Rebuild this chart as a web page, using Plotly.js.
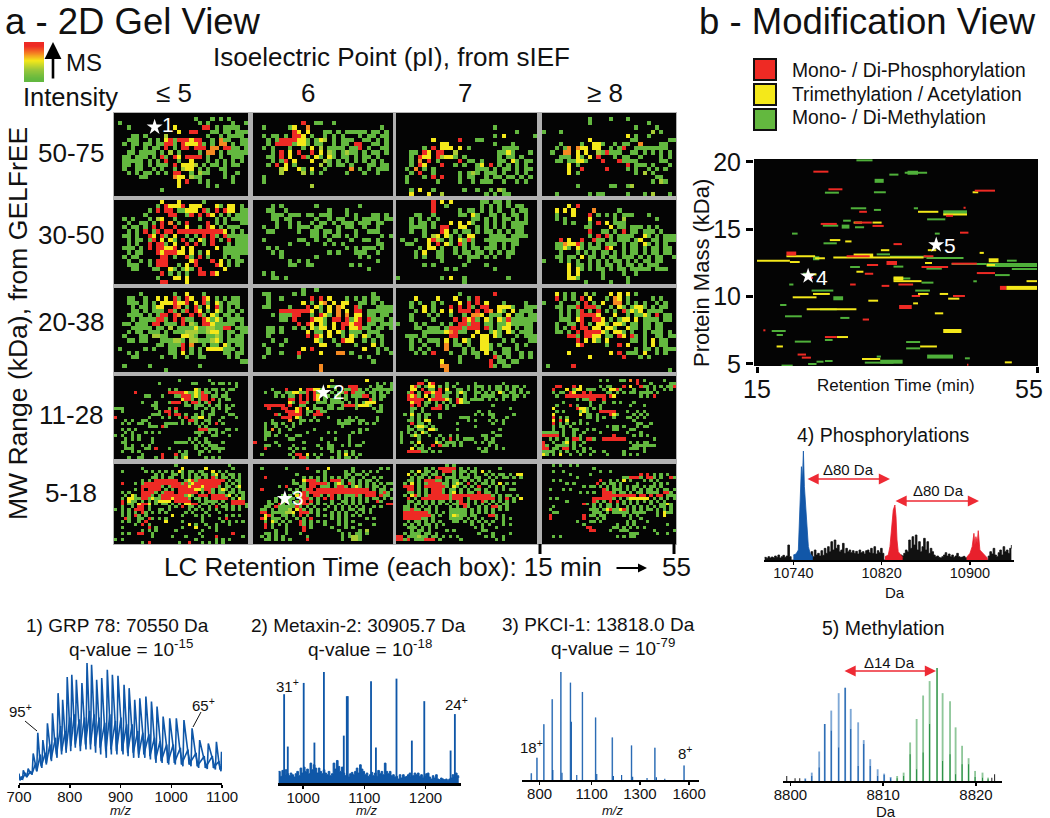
<!DOCTYPE html>
<html><head><meta charset="utf-8">
<script src="https://cdn.plot.ly/plotly-3.0.1.min.js"></script>
<style>html,body{margin:0;padding:0;background:#fff}</style></head>
<body><div id="chart" style="width:1050px;height:818px"></div>
<script>
// ---- gel cells: . none, g green, l lime, y yellow, o orange, r red
const gel_5075_pi5=["","...................g...g.g.g",".g..................g.g.....g..g","...g..........y......rr.g.gggg.","...............y..rr...gg.gg.ggg","....gg.g....l.........g..g.gggg","...ggg..g.g.yrgrrryrr..g.ogg..gg","..g.gg.gg.ggrrg.ryyyrg.g.oo.g.gg","....g..g.gg.r.g.rr.rrr.oo.rrgg.g","...gg.gggg.g.l.g....g.oo.g.ggggg","..gg.ggg.g.rg.ry.rrrr.g..g..ggg.","..ggggg.g.g.r..g..y...g.g.g.g.g","..gg.gg.g.ggg.r.yyyl.g.gg.g.gg.","..g..gg..g.g..g.lyy.g.g..gg..","...g.g.gg.g.g.rr..g.lgg...g..g","......gg......oyy.lgg.....g.g","...............y.r..g.g.....g","...............y......g.g","...........g",""];
const gel_5075_pi6=["","","...........r..gg..g...........","..g.....gy..o................g",".........ry.y...gg.g.ggggg.gg.g","..g.gg.g.rry.g..g.g.g...g.gg.gg","...g.grrrryyg.gyl.g.ggg..gg.g.g","...g.rrrrgyyg.gg..g.gg.rr..gg.g","..g.g...g..g.y.l.gggg.ggr.g..gg","....g.r.y.r..r.y.lg.glgg.g.gg.g","...gg.r.y..rg.yg.yg.gg.g.gg.g","....g.gr.y...y..lg.g.g.g.g.g.g.","...g.r.y.g.....l.g.gg.g...gg.gg","......ly..yg.y..g.....o.g.g.ggg","......l....l.g.g.....g...g..g","..g","..g",".............l","",""];
const gel_5075_pi7=["","","","......................g","...........................g","......................g.y......g","........y.....r...gg.........","..........yy..........g...g","......g.r.yyy.y.g.......gggg","...gg.ry.rr..l.........ggyg...g","...g.ryy.rlyyg.g.......g.gg.g","...g.o.r.g....r.gg.g...gg.yg.gg","...g.ry...r..g.g..gy.r.g.g.g.g","..g.o.g.g.........ggg.g.gg.g.gg","...g.r..g.....g.glg.ggg.g..g.g","..g...g.r.r...g.gg..g.gg.gg.g.g","..g......g....g..g.ggg..g..g.g","","...g.y..g......g..g..g.lg","...y...y..l.........g.g.gg"];
const gel_5075_pi8=["","...........g....g...g","...........g.............g","......................g....g","g...g.....................l.g","....................y.g..g","...........y.........gg.......gg","....g....g..yyg..g.gg..o....gg..","...g.go.oyy.yy..g.gr..gggggggg.","..g..oo.y.y..lgrggg..gg.g.g.g.g","....ggg.yg.y.r...g.gg..g....g.g","...gg.ggyyg...r...rgggg.....gg","......y.g...........r.ggg.g...g","......y..r.....r....g.g..g.g.g","......y.g.............g.l.g","...........................gg","..........................g.lg","........g.......gg..gl","","...g.......g.gg.....g...g.l...g"];
const gel_3050_pi5=["...........y...y.....g","..........g.ryyyr.yyy...yg.yy.g","........g.r.rr.ggyyy.rg.r.ryy.gg",".......g.....rr..gr.r.ry.g.g.ggg","..g.g...g.ly..g.....g...g.g.gggg","...g..gg.g.r.o.g.r....r.g.g...gg","..g.gg.g.r.r..r..y..g.ry.g.ggg..","...g.g.r.gr.rr.rrrrrrrrrrry.g.g.","..gg.g..ry.rg.y..g.g.r.rg.rggggg","...g.gg.gr.y.yg.r.g.yg.r.g.r.ggg","...g.g..r.rrg.y..r.r.g.r...g.ggg","..ggg.g.r.rryyr.y.y.....y.gggggg","...g.gg...ryrrryy.y.g.y...ggggggg","..g.gg.....rr.g..rg.r.g...g.gg","...g..g.g.rrr.....yr...r.y.g.gg","...ggg..g.rrr..g.y.r....ry.g.g","....gg...gg..yg.gyg.r.....y..","...........r.g.g.g..rr.ry.","..........g...yy.y..........","...........rr....y"];
const gel_3050_pi6=["","....g.g.......g.........g","...gg..g.........g...g..........","....ggg.ggg.gg.ggg...g.g...gg.g","....gg.gg.....g..g.gg..g.gggg.gg",".....g..g.g..g.gg.g.ggg.ggg.gg","..g..g..g.ggg.gg...g.gg..g..g","...gg.....g..gg.gg.g...g..ggg...",".............gg.g.gg.g.g.....g.g","..g.......gg..g..g....g..gg.g","........g...g...g.g.g.......gg","...g.g...............g.g.ggg.g","....g.g..........g.g...ggg..g","......g.......g.........g.g","........g.g.g...............g","........gg..gg........g.g","..........................g","..g.g..........","....gg.g.........","",""];
const gel_3050_pi7=["........r.y.y......gg.gg.g","........r..g.......g.g.g.g.gg","........r.....g.gg.g.g.g..g.gg","....gg..g.....gg.yg..gg.g.gg.g","...g.g.g.g.......gg.g.g.gg.g.g","...g.gg.g...y.y.yg..g.g.g.gggg","...gggg.g.rr..yy..g.g.g.g.ggg","...g..g...ry.g.gg.g.gg.g.g.gg","......g.ly.yg.g.yy...gggg.gggg",".g..g..yrlg.g.ygrg..gggggggg","..gg...y.r.yg.rg.g...gg.g.gg",".....g.yy.g..g.g.gg.ggg.g.g","....g.y..gg..g.gg.gg.g.g.gg","....g.g..gg...g.ggg.g.g..g.","..........g.....g....","......g.g......g....g","...........g.g........g","..................","g.........g.y..g.........g","...............g.."];
const gel_3050_pi8=["","......y.r","...y.y.y....o.....g...","...g...y...r.g.g.g.ggg...g","...g.g.....y.....g.l.......g",".....g.g...g.r.y.ggg..........","..........gg....y.gg.ggg.g.g","...........r..gg.g.r.gg.ggg.g","...........g.r.rg.gggg..yg.g.ggg","....r.y..r..rgg.g.ggg.gy..gg.ggg","...ggoyyrg.g.g.ggg.g.gg.yg.g.g","...ggyg.yg.ggg.ry..g.gg.g.gg.gg","....g...g.g.g.gg.g.g.gg.g.gg.gg","...gg.gg.y.gg.g.gg.ggg.g.g.gg..g","g...g.g.g..g.g.g.gg.g.g.gg.gg","......y.gg.g.g.gg.g.gg.g.ggg...","......y.yg.g.gg.g.gg.ggggg.ggg","......y.y.....g....g..g...","......yyg.....g.....g","..........g.....g...g"];
const gel_2038_pi5=["","......g.......g..y...g...","...gg..g..y.y.rg.ry..ry.g.g.gg","...ggg.g.g.yyyryyr.y.rg.yg.ggg","....g.gg.gyy..ro.g.rg.y.rg.g.g","....gg.g.ggg.rg.gr.ry.g.yg.gg.g","...gggg.g.grr.ro..r.rg.yg.gg.g","....g.ggggrrg.r.rgg..rygyg.gggg","..gg.ggg.rr.ggg.r.lg.rryggggg.g","....ggggg.gg.l.ggggyggllggrr.ggg","...g.gg.ggg.g.ggglllgglyyg.gg.gg","..g...gg.llgg...yylg..gglg.g.gg","...gg.gg...gggllg.llggglyg.gggg","..........gg.gggr.o..g.gg.yg.gg.",".g.....g.g...gg.r.g.g.yyyyggg.g","...g.g.......gg.y.g.g.....gg.gg","....gg.....g..g..g..gg.....g.g","..............................gg","..g.....g...........g....","............g..."];
const gel_2038_pi6=["...........g..g.......","..gg.....g.g...............g","...g..g......r.r.y...g.g.g.gg","...g.......y.g.yo.y.yy..gg.g.g","..gg....g...r.yg.y.oy..rg...ggggg","......rrrrrrry.g.y.o.y.rr.ggggggg","....g.gggrr..g.ryg.o.o.yy.gg.gg","......gg.r...ryyg.rr.rgyr.rggg.g","..........r.ry.yg.y.rryrr.gg.ggg","...gg.g..g.g.ygyy.y.r.yyrgg.gg.g","...gg.g.....y.gg.y.yg.ggg.ggg.","...g........r.ry.y..g.yg.yg.gg","....g..g......yg..g.ryy..g.g.g","..g...g........yy..g...g...y.g","...g.......y.r...........y..g.g.","...g..g...r....y...oo.g.....g..g","..g.......g.............g.g","...........................g","...............o","...............o"];
const gel_2038_pi7=["","..............g.......r","....y....y...y..g.r.......","...g.g..g.g...y.r.r.y...g....g","...g..y.g...r.r.rg.rr..yyyg..ggg","....g.y.g.y.y.rrr.r.ro.yg.y.ggg.","...g...g.g..g..g.ooy.ggg.y.gg.gg","...g....g....r.ryrg.yg.ygrgggggg","g...g.g...g.g.rrgrr.gg.ggyggggg.","....gg.ggg.grrrgrrr.rg.gyy.g.gg","......gggggyorgg..y..gyg.yg.ggg","..ggg.g.....rr...y.yy.yg...g.ggg","...g.g.ggg.y.g.yg..yy...g.g...gg","...g..g..g.o.gg.g..yyg.g...g.g.","...g.g.g...o...g.g.yyg..gg.g.","....g.g.r...g..g.gg.y.g.gg..g.g","..............g...g...rg.g..g.g","..........y...g......r.gg.gg","..........oo.........rg.gg","...........o.................."];
const gel_2038_pi8=["","...y.g.g..l.g...y.y.y.g","...r.g.g.r.y...g.oy.g.....g.g","g...g...g.r.g.y..oo.g.g.g..g.g","...gg.ggr.rrrg..g.yg.gyyg.g.gg","....g.g.gr.g.r.g.g.rgygy.gggg..","....g.g.grrrry...y..g.ggyg.r.gg.","....ggg.yr..rry.g.gyy.y.gggg.gg","...g..gg.r.g.yyg.yyg.gg.gg.gg","...g.g.r.rr.yy.yyg..ygg.gg.gg","...gg.g.r.rrrryg.yyg.g..g.ggg.g","......rrg.rryy.gg.ry.rg.g..gg.gg","........r.y.yg.y.....gg.g.y.gg","........yr.....g..r.y...g.y.gg","......................g.gg.g.ggg","......y.........y.r.ggg.y..g.g","...........y.......r...g.g","...........................",".g.....r......","..............................g"];
const gel_1128_pi5=["","...................g........g",".............g.........gg....g.gg.g.g....gg","....................................g...gg","................g.g.....yg.g.gg.g.gg.","......r.........rrrrryggygrgg.g..g",".........gg...g...ggrrrgygrr.gg.gg","....................yrrg.grr.r.g.gg","........g...g...grrr.g.rrg.gr..g.","...........gg........gg.ggg.g.gg.g.g","ggg.........g...g.r.....g..g.g.g.gg","..g..........g.rr.g.......g..g...g","...........ggg..r.rr.g..g.g.gg....gg","r.........g...g.g..g.r.ggyy.g...g...g","...g.g..gg..........g.rrg..gg..g..","..g.g..gg.g....gggg.g.g.g.g.g.r.g","..........ggg.rg.........g.g....","..g.g.g..................rrrggg..gg.g","...g.g...g.g.g..........ggg.g.g.g","g.g..g.g.................g...gg...g","...g.g.g...g..........g.g..g...","..gg.......g......gggg.g.g.gg...g..","...g.g..g.g.............g.g.ggg","...ggg...gg.r...g.......g..g.gggg.","..g..g.g...........g.g...gg.g..g.","........g.....r...r.gg...g.....","....g..gg...g.r...g.gy.....g.g.g",""];
const gel_1128_pi6=["","......................l.........y...","...................................g.g.g",".....................ygg...rrr...g.gg..ggyy",".....g...r...y.rryyg...g..ggrrg.g.gggggggg","...g..gg.ggyyggr.rggg.g.ggr.rggg.gg.g.g.g","......g.g.gg.r.r.ry.gg.gg.g.gggrr.g.gg","..........rr.r.r.ry.g.ggg.g..g...rg.g.","..........yg.rrg..ggg.gggg.g.g.gyyy....","...rrrrrr.r..gg..g...gg..grrrgyyyg..g.","....r...rr..yr.y.ggg.gg.gg...g....g.g.",".........rrryr.gg.rgg..............gg","......rg..rrrr.g.rrr.........","........rrr.yg...g...g.....g.g.....g",".....g....o..gg.g.g.....g.ggg.gg...g","...g.gg.g..g.g..........gggg..g.g.g.","...g..g..g.g.............g...","...g.o.g..g......g............g.g","...gg..g.......g.....g.g....g.g","...gg.g..g..gg.............g......","...g......gg.......g...g...g","r.....g.......g......g.....g...g","...gg..g...g......g..gg..g.g.gg..","...r......g.g.g....g.gg...","...........g..........g.g.g.g","..g.......g.rr.y.g.g....g.y.g.g.","...........g.rrg..g...g.g.gg.g...",""];
const gel_1128_pi7=["","........g...........","......rr.yr...g..g....g.......g..","....yrg.gyy.g.g.g...g.ggg.g.gg.g.gg.g","....yy.r.gg.r.y..gg.g.g.g.g.gg.g.g.g.","...gr.g.rryrr.gg.gyg..gg.g.g.yg.gg.g.g","...ryrg.y.grrgg..g.g..g.gggg..gg.gg.g","...rrrrr.yrrrryg.ryg.gggg.g.g.g..g","....yrr.gg.g.g.g.rygg..............","....r.r.g..gr.g.g..........g.....","....gg.g..rrr.g.................g","....g..g...............g..g.","..g.y.g.gg..g.........g.g.gg.....g.","....g.g.g...g.....ggg......g...g","...gg.g.yy..........g.g...g.g.g.","....r.gg.g.......g.........g..g.","...g.gyyg.g...........g......","...gg.gg.yyg.....g...........g.",".g.g.g.yg..................g...",".g..gyg..g..g..g.g......gg..gg.",".g....g....g.g.r.g.ggg...g.g...",".g..g.y....yg.ggg.g...g.g.gg...",".....g.g..r.rgg.g.g.......g.g..","....y.gg.g.............g.g..g.g","...rrrrgg.g.g...........gg.....","",""];
const gel_1128_pi8=["",".................g.g...gg.o.r.g.....g","............................r...g.....gg","....rr...r.y.....g.gg...r.y..rgg.g.g.ggrrg.","...r...y.gyy.ggg..g.yyrg...g...g.g..g.g","...g.gg.ry..r.r....gg.g.g.gg.gggg.g...","....g..rrrrrrrrrrrr.ry.......g.g.r.","..........g.ggrr..r.................","......g.......g...g..g.g...g.....","....g...r.g...g..g........g...g...","...y......ryyg.g.g...........","....g.g....gyg...rrrrr...g..g.g..","...y.......y.gg.g...ryg....g.g.g..","...r.g.g.....gg.g.g..g...gg.g.g..","...y.r.y...g....g..........g.......","...r.g.g.g.g.g..............gg..g","...g.gg.g..........g.gg.g...g.gg.","...g..g..gg..g.g.....gg...gg.","ggggg.g..g..g....g.......g...g....","rrrrr.g..g.g.........r.....g.g.g.","..g.g..g.rrg.rrg..rrrrrrr........g...","r..g..gy.g..g.............g.g.gg...","rg..gggg.g.g...............ggggggg...","rr.gg.rr.g..g.g...........ggg.g...","gggg.g.g..g.g..g..g.....g.....g","yg.g.y..g..g..g....g....g.g.g....",""];
const gel_518_pi5=["..................g...............g......g","........g...........y......y.......g.....","..g......g.g.g.g.g.yg.gg.gg..y.g.g.......","............g.g..gg.g.g.g.gg.gy.g.gg.g..g.","...........gg.g.gg..g.g.gg.g.rg.gg.g.g...","........g.g.rrrrrrr..gyrgrrrrrrrr.g.gg...","..r...g.grrrrrrrrrrrgrgyrrrrrrrr.g.g.g...","........rrrrrrg.grrrrryrrryrrrrg.gg.gy...","......g.r.rrrr.g.g.rrrrryygrrg.gyg.g.g...","..g.g...rrrrg.grrr.rrrrrr.g.rg.gg.gg.gg..","...g.yg.rrrg.grrrrrrrgyg.rrr.rrrrgy.g.g..","..g.yyggrrgyggrrryrrrrg.gg.g.rrrrr.g.yg..","..r.ygg.g.g.gyyyy.rrrrr..g.gggg.g..rrrr..","..r.gg.yrry.g.gg.g.g.yyrr.gg.g.g.g.rrrrg.","..g..g.rr.g.....g.g.r.gg.g..g.r.gg.g.g.g.","g.g.g.rrr.g..gg.g.....g.g.g.g.g..g.g.g...","..g.g.g.rg.g.g.g.....g.g...g...g.........","..g.g.rg.g.......y..g...g.g.g....g.g.g...","...rg..gg.rg.g.g..........g....g.r.......","..g.g..g.r.....y....g.....g.....g.g.g.g..","......g.r.g...........y.g..g..g...g......","..g.......r.g.......g...y...g.g..........","........g.g.g.....g.......g...g..........","..g.g..rr..g.............g.........r.....","...........g.....g...g....g...r.......g..","g.g.....................g.....g.g.g......","........g.r........g..r...g.g.g.g........"];
const gel_518_pi6=["..............................","..g......g.....r.....y......g.......g.g...","..................g.g.....g.g..g.g.g......","............g.......g.....gg.gg.g.......g.","...r..........g.g.g.g.g.g.g.g..g..g.g.....","...........g..yrrrg.g.rrrg.gg.g.gg.g......","...........gg.g.rrrrrg.gyg.rg.g.g.g.g.gg..",".......g.r...gg.rr.ggg.grrg.gyg.g.gg.g....","..r.......g.g.grr.rrrrrrrrrrrrrrr.g.gg.g..","...........gg.rgrrrrrrrrrrrrrrrrrrr.grg.g.","........g.g.yrrg.rrg.gr.g.gggrg.rrr.rgg.g.","......g.g.gg.grrg.g.r.r.g.g.g.g.g.gg.g.g..","....g.g.gyg.grr.r.g...g..gg.g.g.g..rg.....","....gg.rg.gg.grrg.g.g.g.g.g.g.g.......rr..","...gg.rgggggrg.g.g...g.g.g.g.g.g..g.g.....","..gg.g.gggl.yrg.g.g.g..g.g.gg.gg.g........","..rr.gggglly.rrrg.g...g.g.g..g.g.g........","...yrg..gg.g.r.g..g.g.g.g.g.g.g...........","..ry.ggg.g..g.g.r.....g.g.g.....g.g.......","...g.yg.g.g..rg.g.g.g...g.g.g.............","...r.g.g.g...rg.g...g...g.g...g...g.......","...r.g...g....r.g.....g...g.g.............","......g..g....r.........g.....g.l.........","...gg.g..g...g...........g.g.gg.g.........","..g.g.g.g......g.........g.gllg...........","...gg.g.g.g....r.........g..llg.........g."];
const gel_518_pi7=["..............g.g","........g.g.rrrrr.g.g.g......g......","....g.y.gg.g.rrrg.gg.gg.y.g......","...y.g.gg.gg.g..g.g.g.g..g.g.gg.g.yy.","....g.gg.g.rr.ggg.ggg.gg..g.g.gg.g.g","...gg.g.rrrgg.g.gg.g.g.g.g.g.........","..g.y.g.grrrrgg.gyg.r.g.gg.g.y.g.g.","..rrr.g.rrrrrrg.yg.g.g.r..g.g.g.....","...rr.g.g.rrrg.gg.g.g.gg.g..g.g.gg.","...gg.g.g.rrrg.gy.g.gg.r.gg.g.......","..g.yrg.grrrrrrgrrrrrrrrrrrg.g.gg.g..","...r.g.rrrrrrrrgrrr.grrrrrrr.g.r.g.y.","...gg.g.g.g.gg.g.gr.g.g.rg.g.g.g.g..","...g.gg.g.g.g.g.ggrrg.g.g.g.g.gg....","..gg.g.g.g.g...g.g.rg..g.g.rrg.g.....","..ggrgg.gg.g...ggggg.g.g.g.g.g.g....","..rrrrrrrg.g.g.ggggg.g.g.g.g.......","..rrrrrrrrg.g..gylgg.gg...rrg.g.....","..rrrrrgg.g....gggg.g.g.g...g.g.g..","...g.gg.g.g.g...gg.g.g.g.g.g..g.....","..g.g.g.gg.g.g.......g..g.g...g.g...","...ggg.g.g.g..........g.g...g.......","....g.gg.g....g.g.......gg.........","..g.ggg.gg.g...........g...g....g...","rr.ggglgg.gg.g.g.g.......g.g..g.....","rrgr.gggrrr.g.....g.........g.g....."];
const gel_518_pi8=["...g.g..g.g","...............g........","...g..g..........g..g...................","........g.....g..............r.r.g.g.g...","..........g.............ggrrrg.rrg.g..rg.g","...g.g...........r..g.g.y.g...g.g.g.......",".......g.g......r.g.gg.g....g....g.g.g...","............g.gg.g.g.g.g.g.gg.g.gg.g.....","..g...g.g.........rg.ggg.g.g.g.gg.g.gg.g..","...........g.g.g..rrrg.gg.g.gg.gggg.rrg.g.","..................rrrrrrrrrr.rr.r.rr.ggg.g","..g.g..........rrrrrrg.g.gyyyyyy.g.g.g.gg",".......g.......rg.g.r.r.g.g.g.g.g.g.g...","............rg.g.g.gg.g.g.g.g...g..ggyg...","...g...........g.g.gg.g..g.g.g.g.g.gg.g..","..g...........ggg.gyrggyrg.g.g.gg.g.g.g..","...gg..........ggg.g.ggggg.gggg...g.ygg..","..r.........r.gg.gg.....g.g.g.....g.y.....","..r.........r...g.g.......g..g..........","..........g...gg.g.......g.g...g..........","............g.........g..g.g.........g....",".............rr......gg.g.g.g.g...........","..............rr....g..ggg.......g.....g..","..........................ggg.....g..g....","...g.g................g.g.gg.............."];

// ---- colour key levels
const keyLevels=[[5],[4],[3],[2],[1],[0]];
const row_labels=["50-75","30-50","20-38","11-28","5-18"];
const col_labels=["≤ 5","6","7","≥ 8"];

// ---- modification map segments: [start min, end min, kDa]
const phospho=[[23.05,25.2,19.28],[25.2,27.2,17.97],[46.1,49,17.87],[29.6,30.7,16.3],[24.1,26.4,15.4],[28.9,31.4,15.5],[31.5,33.1,15.25],[44,45.2,14.75],[34.5,35.7,13.9],[27.8,31.1,13],[38.8,40.2,13],[30.7,32.3,12.35],[38.5,42.3,12.2],[42.8,46.4,12.45],[30.4,31.6,11.7],[46.4,49,11.75],[28.3,29.1,10.9],[35.2,37.3,10.9],[32.8,33.9,10.8],[37.1,38.3,10.05],[43,44.7,10.05],[30.1,31,8.3],[15.9,16.2,7.5],[24.7,26.4,7],[20.8,22,5.7],[21.4,22.7,5.47],[42,43,16],[22.3,23,11.4],[44.5,44.8,16.6],[45,45.2,4.95]];
const phosphoThick=[[19.2,20.6,13.2],[33.5,35,12.5],[49.7,50.6,10.65],[35.3,37.1,9.23]];
const trimethyl=[[15,19.7,12.67],[19.7,21.1,12.57],[19.2,23.3,13],[23.3,24.7,12.85],[25.9,38.8,12.9],[31.5,32.8,15.5],[28.8,30,15.5],[25.4,26.9,14.2],[27.6,28.5,14.1],[32.7,33.9,13.45],[38,40.9,16.3],[41.6,45,16.1],[45.8,46.6,17.75],[46.8,47.4,13.25],[29.2,30.2,11.85],[34.5,38.5,11.15],[53.5,55,11.15],[47.8,49,12.35],[39,40,12.5],[23,25.4,10.2],[38,39.5,10.2],[41.1,42.3,10.2],[42.3,43.9,9.85],[30.9,32.3,9.7],[20.1,23.5,9.95],[37.3,38,9.5],[22.1,29.2,9.06],[40.4,41.6,8.76],[38.3,40.7,6.3],[17.8,18.7,6.3],[26.4,28,7],[30,32.6,5.37],[50.4,51.4,5.12],[22,23.5,11.65],[39.4,40.6,13.45]];
const trimethylThick=[[50.6,55,10.65],[48.1,49.5,12.7],[34.5,35.9,11.35],[41.6,44.2,7.45],[28.8,31.6,13.05]];
const methyl=[[29.2,31.5,20.12],[36.1,39.3,19.2],[33.9,35.2,19.06],[31.7,33.4,17.75],[24.7,26.7,17.72],[28.4,30.6,16.56],[31.7,32.7,16.44],[37.4,38,16.56],[39.3,41.9,15.74],[27.3,28.4,15.64],[29,30.3,15.15],[24.4,26.6,15.27],[20,20.8,14.68],[40.4,41.1,14.68],[24.5,26.4,13.96],[32.1,34,13.14],[34,39.2,12.97],[39.2,44.5,12.87],[28.3,29.7,12.2],[34.5,35.9,12.23],[39.2,41.4,12.08],[42.8,47.8,12.43],[50.7,52.1,12.67],[51.4,55,12.05],[49,51.1,11.6],[21.6,22.6,11.7],[19.6,20.2,10.9],[34.5,36.9,11.35],[38.5,40.2,11.04],[45.9,46.4,11.14],[22.8,25.9,10.45],[37.6,39.7,10.45],[24,26.4,9.06],[18.3,19.2,9.38],[19,21.4,8.54],[26.9,28.2,8.42],[17.1,19.1,7.45],[17.8,18.7,7.15],[20.4,22.7,6.66],[24.7,25.8,6.78],[36.3,38.3,6.63],[36.3,38.3,6.16],[44.7,45.4,5.42],[22.3,23.5,5],[23.5,24.5,5.17],[24.7,25.8,5.22],[18.5,20.1,4.88],[30.4,34.5,5.1],[32.1,32.7,5.55]];
const methylThick=[[41.6,45,16.26],[31.8,33.1,18.6],[36.5,38,19.2],[27.1,28.2,15.2],[23,23.9,12.85],[47.8,55,12.35],[25.9,27.3,9.88],[39.3,43,5.55],[32.6,35.8,5.17]];
const star4=[22.3,11.53], star5=[40.6,13.84];

// ---- spectrum 1
const mz1=[700,702,704,707,708.5,712,716,718,722,726,728,732,735,737,741,745,747,751,754,756,760,764,766,770,775,777,781,784,786,790,793,795,799,802,804,808,811,813,817,821,824,828,832,834,838,841,843,847,851,853,857,861,863,868,872,874,879,882,884,889,893,895,901,905,907,912,915,917,922,926,928,933,936,938,944,948,950,955,959,961,966,970,972,978,982,984,990,995,997,1003,1008,1010,1017,1023,1025,1033,1039,1041,1048,1054,1056,1064,1071,1073,1081,1087,1089,1094,1098,1099,1100];
const int1=[28,8,15,12,38,25,18,43,30,28,88,50,35,150,70,45,128,85,55,178,110,65,208,130,75,268,165,85,248,150,90,316,190,95,323,200,105,308,180,95,298,190,100,358,210,100,353,200,90,308,190,85,313,170,75,338,200,85,323,180,85,320,190,85,293,170,80,283,170,75,248,150,75,253,145,75,258,140,70,243,130,60,228,120,60,198,110,55,193,110,55,193,100,50,188,90,50,163,85,45,128,75,42,118,75,40,123,60,35,93,40];
const mz1b=[704,706,713,715,723,725,733,735,742,744,752,754,761,763,772,774,782,784,791,793,800,802,809,811,819,821,829,831,839,841,848,850,858,860,869,871,879,881,890,892,901,903,912,914,923,925,934,936,944,946,956,958,967,969,978,980,991,993,1004,1006,1018,1020,1033,1035,1049,1051,1065,1067,1081,1083,1094,1096];
const int1b=[20,10,30,18,35,25,60,35,85,50,90,60,115,70,135,85,170,95,155,100,195,110,205,115,190,110,195,115,215,115,205,110,195,105,180,95,205,100,185,95,195,95,175,90,175,90,155,85,150,85,145,80,135,70,125,65,115,60,115,60,105,55,100,55,90,50,80,45,80,45,65,40];
// ---- spectrum 2
const mz2=[969,975,1001,1018.5,1034,1066.5,1071.4,1073,1111,1119,1152.6,1177.7,1198,1241,1248];
const int2=[268,110,302,122,335,143,262,262,307,107,315,128,247,98,208];
const grass2=[35,20,38,25,40,28,22,30,25,18,28,35,22,45,30,48,35,42,28,60,40,55,45,30,45,35,28,40,30,25,35,22,28,60,42,68,50,35,48,30,22,25,18,28,32,25,35,45,30,55,42,35,25,30,20,25,32,22,30,20,38,28,35,25,60,35,28,35,22,25,18,20,12,25,15,25,18,20,25,30,18,22,30,25,30,20,25,15,22,28,30,18,12,22,15,25,12,10,15,12,10,12,8,12,15,25,18,30,22,15];
// ---- spectrum 3
const mz3=[755.6,786,823,867.6,914,965,1029,1100,1189,1292,1417,1573];
const int3=[20,67,168,243,325,293,265,188,128,104,97,44];
const mz3minor=[871,920,970,999,1106,1195,1239,1298,1375,1425,1470];
const int3minor=[30,22,175,15,18,12,15,10,6,8,4];
const tick3=[800,1079,1337,1600], tick3text=["800","1100","1300","1600"];
// ---- spectrum 4
const noise4=[8,5,10,6,9,7,12,8,15,6,10,14,8,12,45,10,0,0,0,0,0,0,0,0,0,0,0,0,25,10,30,15,20,12,28,14,35,20,40,25,55,30,60,35,45,25,30,50,20,35,25,30,22,28,20,26,18,30,22,25,18,28,30,22,35,20,40,18,28,22,35,20,0,0,0,0,0,0,0,0,0,0,15,12,20,30,25,60,35,70,45,75,30,55,25,40,65,30,55,20,35,25,15,10,12,8,6,10,15,22,12,18,10,15,8,12,20,10,8,9,11,7,0,0,0,0,0,0,0,0,0,0,0,0,0,12,25,18,35,15,10,22,30,15,40,25,30,20,35,45];
const mzBlue4=[10740,10742.4,10744.5,10745.4,10746.3,10747.3,10748.2,10749.1,10750,10750.9,10751.8,10752.7,10753.6,10755.2,10757.6];
const intBlue4=[15,18,30,100,165,280,240,327,220,170,110,70,40,20,8];
const mzRed4a=[10823,10826,10827.5,10829,10830.5,10832,10833,10833.9,10835,10839];
const intRed4a=[10,15,40,110,150,165,130,60,25,8];
const mzRed4b=[10897,10900,10902,10903.6,10904.5,10905.4,10906.6,10907.5,10909,10912,10916];
const intRed4b=[8,20,40,80,45,70,50,88,30,20,5];
// ---- spectrum 5
const mz5blue=[8801.6,8802.3,8803.1,8803.7,8804.4,8805.2,8805.9,8806.5,8807.3,8807.9,8808.6,8809.4,8810.1,8810.8];
const int5blue=[8,25,88,170,210,262,278,215,175,122,65,35,22,12];
const int5blueDark=[5,15,40,170,150,100,278,155,45,110,45,15,18,8];
const mz5green=[8811.5,8812.2,8812.9,8813.6,8814.3,8815,8815.8,8816.4,8817.2,8817.8,8818.5,8819.2,8819.9,8820.7,8821.3];
const int5green=[15,25,115,185,255,298,337,262,238,160,105,68,30,25,10];
const int5greenDark=[8,15,80,35,85,170,337,60,80,20,50,50,12,10,5];
const mz5black=[8799.6,8800.5,8801,8821.7,8822];
const int5black=[15,8,8,10,20];

const W=1050,H=818,FONT='"Liberation Sans",Arial,sans-serif';
const X=x=>x/W, Y=y=>1-y/H;
const traces=[],annotations=[],shapes=[],layout={};
let axisId=0;
function axes(x0,x1,y0,y1,xopt,yopt){
  axisId++;const s=axisId===1?'':String(axisId);
  layout['xaxis'+s]=Object.assign({domain:[X(x0),X(x1)],anchor:'y'+s,visible:false,fixedrange:true,showgrid:false,zeroline:false},xopt);
  layout['yaxis'+s]=Object.assign({domain:[Y(y1),Y(y0)],anchor:'x'+s,visible:false,fixedrange:true,showgrid:false,zeroline:false},yopt);
  return {x:'x'+s,y:'y'+s};
}
function text(t,x,y,size,opt){annotations.push(Object.assign({text:t,x:X(x),y:Y(y),xref:'paper',yref:'paper',showarrow:false,xanchor:'center',yanchor:'middle',font:{family:FONT,size:size,color:'#111'}},opt||{}));}
function line(x0,y0,x1,y1,color,w){shapes.push({type:'line',xref:'paper',yref:'paper',x0:X(x0),y0:Y(y0),x1:X(x1),y1:Y(y1),line:{color:color||'#111',width:w||1}});}
function dblArrow(x0,x1,y){annotations.push({x:X(x1),y:Y(y),ax:X(x0),ay:Y(y),axref:'paper',ayref:'paper',xref:'paper',yref:'paper',text:'',showarrow:true,arrowside:'end+start',arrowhead:2,arrowsize:1.4,arrowwidth:1.6,arrowcolor:'#ee2a34'});}

// ---- gel grid
const LEVEL={'.':0,g:1,l:2,y:3,o:4,r:5};
const gelScale=[[0,'#040404'],[1/6,'#040404'],[1/6,'#63b83f'],[2/6,'#63b83f'],[2/6,'#a9cc35'],[3/6,'#a9cc35'],[3/6,'#f4e81a'],[4/6,'#f4e81a'],[4/6,'#f58a22'],[5/6,'#f58a22'],[5/6,'#ee2a24'],[1,'#ee2a24']];
const colX=[[114,248],[253,393],[396,537],[542,676]];
const rowY=[[113,196],[200,284],[288,372],[376,459],[464,544]];
const gels=[[gel_5075_pi5,gel_5075_pi6,gel_5075_pi7,gel_5075_pi8],[gel_3050_pi5,gel_3050_pi6,gel_3050_pi7,gel_3050_pi8],[gel_2038_pi5,gel_2038_pi6,gel_2038_pi7,gel_2038_pi8],[gel_1128_pi5,gel_1128_pi6,gel_1128_pi7,gel_1128_pi8],[gel_518_pi5,gel_518_pi6,gel_518_pi7,gel_518_pi8]];
shapes.push({type:'rect',layer:'below',xref:'paper',yref:'paper',x0:X(113),x1:X(677),y0:Y(112),y1:Y(545),fillcolor:'#b2b2b2',line:{width:0}});
const panelAxes={};
gels.forEach((row,r)=>row.forEach((rows,c)=>{
  const nc=r<3?32:40, nr=r<3?20:27;
  const z=[];for(let i=0;i<nr;i++){const s=rows[i]||'';const a=[];for(let j=0;j<nc;j++){a.push(LEVEL[s[j]||'.']);}z.push(a);}
  const ax=axes(colX[c][0],colX[c][1],rowY[r][0],rowY[r][1],{range:[-0.5,nc-0.5]},{range:[nr-0.5,-0.5]});
  panelAxes[r+'_'+c]=ax;
  traces.push({type:'heatmap',z:z,xaxis:ax.x,yaxis:ax.y,colorscale:gelScale,zmin:0,zmax:5,showscale:false,hoverinfo:'skip',xgap:0,ygap:0});
}));
const stars=[['0_0',9.2,2.9],['3_1',19.6,4.9],['4_1',8.6,11.2]];
stars.forEach(s=>{const a=panelAxes[s[0]];traces.push({type:'scatter',mode:'markers',x:[s[1]],y:[s[2]],xaxis:a.x,yaxis:a.y,marker:{symbol:'star',size:12,color:'#fff'},hoverinfo:'skip'});});
[['1',168,124],['2',339,391],['3',298,497]].forEach(t=>text(t[0],t[1],t[2],21,{font:{family:FONT,size:21,color:'#fff'}}));

// colour key
const keyAx=axes(24,44,42,82,{range:[-0.5,0.5]},{range:[-0.5,5.5],autorange:false});
traces.push({type:'heatmap',z:keyLevels,xaxis:keyAx.x,yaxis:keyAx.y,zsmooth:'best',zmin:0,zmax:5,showscale:false,hoverinfo:'skip',colorscale:[[0,'#ee2a24'],[0.25,'#f58a22'],[0.45,'#f4e81a'],[0.7,'#9cc83a'],[1,'#63b83f']]});
annotations.push({x:X(53),y:Y(42),ax:0,ay:38,xref:'paper',yref:'paper',text:'',showarrow:true,arrowhead:2,arrowsize:1.3,arrowwidth:2.6,arrowcolor:'#000'});

// titles and gel labels
text('a - 2D Gel View',3,21,36.5,{xanchor:'left'});
text('b - Modification View',697,21,36.5,{xanchor:'left'});
text('MS',84,63,24);
text('Intensity',70,97,25.5);
text('Isoelectric Point (pI), from sIEF',391,57,26);
[174,308,465,605].forEach((x,i)=>text(col_labels[i],x,93,26));
[153,235,322,415,493].forEach((y,i)=>text(row_labels[i],71,y,26));
text('MW Range (kDa), from GELFrEE',18,324,26.5,{textangle:-90});
text('LC Retention Time (each box): 15 min',162,567,26,{xanchor:'left'});
annotations.push({x:X(647),y:Y(568),ax:-32,ay:0,xref:'paper',yref:'paper',text:'',showarrow:true,arrowhead:2,arrowsize:1,arrowwidth:1.8,arrowcolor:'#000'});
text('55',660,567,26,{xanchor:'left'});
line(540,544,540,554,'#000',3);line(674,544,674,554,'#000',3);

// modification view legend
const legendRows=[['#ee2a24','Mono- / Di-Phosphorylation',59,70],['#f4e81a','Trimethylation / Acetylation',84,94],['#63b83f','Mono- / Di-Methylation',109,117]];
legendRows.forEach(l=>{shapes.push({type:'rect',xref:'paper',yref:'paper',x0:X(754),x1:X(776),y0:Y(l[2]),y1:Y(l[2]+21),fillcolor:l[0],line:{color:'#111',width:2}});text(l[1],790,l[3],19.3,{xanchor:'left'});});

// modification map
const modAx=axes(754,1038,159,366,{visible:true,range:[14.57,55.14],tickvals:[15,55],ticks:'outside',ticklen:6,tickwidth:3,tickcolor:'#000',showline:false,showticklabels:false},{visible:true,range:[4.85,20.22],tickvals:[5,10,15,20],ticks:'outside',ticklen:7,tickwidth:3,tickcolor:'#000',showline:false,tickfont:{family:FONT,size:25,color:'#111'}});
shapes.push({type:'rect',layer:'below',xref:'paper',yref:'paper',x0:X(754),x1:X(1038),y0:Y(159),y1:Y(366),fillcolor:'#040404',line:{width:0}});
function segTrace(list,color,w){const x=[],y=[];list.forEach(s=>{x.push(s[0],s[1],null);y.push(s[2],s[2],null);});traces.push({type:'scatter',mode:'lines',x:x,y:y,xaxis:modAx.x,yaxis:modAx.y,line:{color:color,width:w},hoverinfo:'skip',connectgaps:false});}
segTrace(methyl,'#4fb03a',2);segTrace(methylThick,'#4fb03a',4);
segTrace(trimethyl,'#f4e81a',2);segTrace(trimethylThick,'#f4e81a',4);
segTrace(phospho,'#ee2a24',2);segTrace(phosphoThick,'#ee2a24',4);
traces.push({type:'scatter',mode:'markers',x:[star4[0],star5[0]],y:[star4[1],star5[1]],xaxis:modAx.x,yaxis:modAx.y,marker:{symbol:'star',size:12,color:'#fff'},hoverinfo:'skip'});
text('4',822,277,21,{font:{family:FONT,size:21,color:'#fff'}});
text('5',950,245,21,{font:{family:FONT,size:21,color:'#fff'}});
text('Protein Mass (kDa)',701,273,22,{textangle:-90});
text('Retention Time (min)',896,385,17);
text('15',757,389,25);
text('55',1029,389,25);

// spectra helper
const DARK='#0f57a8',LIGHT='#7fa8d6';
function tickAxis(range,vals,size,extra){return Object.assign({visible:true,range:range,tickvals:vals,ticks:'outside',ticklen:3,tickwidth:1.5,tickcolor:'#000',showline:true,linecolor:'#000',linewidth:2,ticklabelstandoff:-4,tickformat:'d',tickfont:{family:FONT,size:size,color:'#111'}},extra||{});}
function sticks(ax,x,y,color,w){traces.push({type:'bar',x:x,y:y,xaxis:ax.x,yaxis:ax.y,width:w,marker:{color:color,line:{width:0}},hoverinfo:'skip'});}
function trace(ax,x,y,color,w,fill){traces.push({type:'scatter',mode:'lines',x:x,y:y,xaxis:ax.x,yaxis:ax.y,line:{color:color,width:w},fill:fill?'tozeroy':'none',fillcolor:color,hoverinfo:'skip'});}

// 1) GRP 78
const a1=axes(19,222,663,783,tickAxis([700,1100],[700,800,900,1000,1100],15),{range:[0,358]});
trace(a1,mz1b,int1b,DARK,1.6,false);
trace(a1,mz1,int1,DARK,1.6,false);
text('1) GRP 78: 70550 Da',117,625,19);
text('q-value = 10<sup>-15</sup>',131,648,19);
text('<i>m/z</i>',120,810,13);
text('95<sup>+</sup>',20,710,15);line(25,721,37,731,'#111',1);
text('65<sup>+</sup>',203,704,15);line(201,712,193,727,'#111',1);

// 2) Metaxin-2
const a2=axes(278,461,672,783,tickAxis([959,1258],[1000,1100,1200],15,{linewidth:2.5}),{range:[0,335]});
traces.push({type:'scatter',mode:'lines',x0:960,dx:2.7,y:grass2,xaxis:a2.x,yaxis:a2.y,line:{color:DARK,width:1,shape:'hv'},fill:'tozeroy',fillcolor:DARK,hoverinfo:'skip'});
sticks(a2,mz2,int2,DARK,3);
text('2) Metaxin-2: 30905.7 Da',358,625,19);
text('q-value = 10<sup>-18</sup>',370,648,19);
text('<i>m/z</i>',366,810,13);
text('31<sup>+</sup>',287,685,15);
text('24<sup>+</sup>',456,703,15);

// 3) PKCI-1
const a3=axes(522,699,672,780,tickAxis([706,1653],tick3,15,{ticktext:tick3text}),{range:[0,325]});
sticks(a3,mz3,int3,LIGHT,9);
sticks(a3,mz3,int3,DARK,4);
sticks(a3,mz3minor,int3minor,DARK,6);
text('3) PKCI-1: 13818.0 Da',598,624,19);
text('q-value = 10<sup>-79</sup>',613,647,19);
text('<i>m/z</i>',612,810,13);
text('18<sup>+</sup>',531,746,15);
text('8<sup>+</sup>',685,752,15);

// 4) Phosphorylations
const a4=axes(764,1014,451,560,tickAxis([10713.4,10939.9],[10740,10820,10900],14.5,{linewidth:1.5}),{range:[0,327]});
traces.push({type:'scatter',mode:'lines',x0:10714,dx:1.5,y:noise4,xaxis:a4.x,yaxis:a4.y,line:{color:'#111',width:0.8,shape:'hv'},fill:'tozeroy',fillcolor:'#111',hoverinfo:'skip'});
trace(a4,mzBlue4,intBlue4,'#1257a8',0.8,true);
trace(a4,mzRed4a,intRed4a,'#e8202c',0.8,true);
trace(a4,mzRed4b,intRed4b,'#e8202c',0.8,true);
text('4) Phosphorylations',883,435,19.5);
text('Da',895,592,15);
text('Δ80 Da',848,469,15);
text('Δ80 Da',938,491,15);
dblArrow(806,890,479);dblArrow(894,979,501);

// 5) Methylation
const a5=axes(783,1002,668,781,tickAxis([8799.2,8822.8],[8800,8810,8820],15,{linewidth:2}),{range:[0,337]});
sticks(a5,mz5black,int5black,'#333',0.12);
sticks(a5,mz5blue,int5blue,LIGHT,0.2);
sticks(a5,mz5blue,int5blueDark,DARK,0.1);
sticks(a5,mz5green,int5green,'#8fc79a',0.2);
sticks(a5,mz5green,int5greenDark,'#1f8a3b',0.1);
text('5) Methylation',883,628,19.5);
text('Da',886,811,15);
text('Δ14 Da',889,662,15);
dblArrow(843,936,671);

Object.assign(layout,{width:W,height:H,margin:{l:0,r:0,t:0,b:0},paper_bgcolor:'#fff',plot_bgcolor:'rgba(0,0,0,0)',showlegend:false,barmode:'overlay',annotations:annotations,shapes:shapes,font:{family:FONT,color:'#111'}});
Plotly.newPlot('chart',traces,layout,{staticPlot:true,displayModeBar:false});
</script></body></html>
